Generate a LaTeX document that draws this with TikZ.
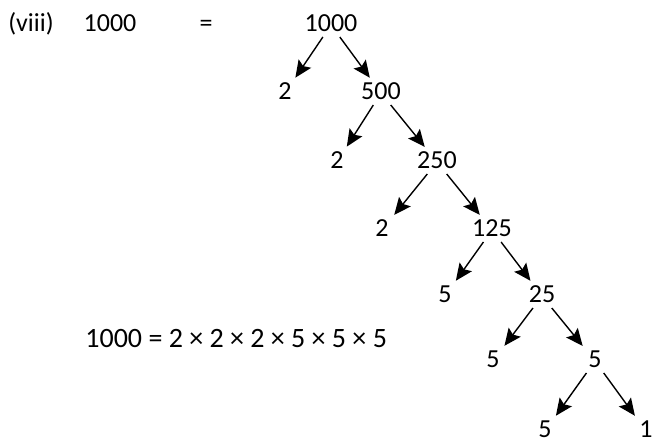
\documentclass[tikz,border=0pt]{standalone}
\usepackage{fontspec}
\setmainfont{Carlito}
\usepackage{tikz}
\usetikzlibrary{arrows.meta}

\begin{document}
\begin{tikzpicture}[
            x=0.5pt, y=-0.5pt,
            num/.style={inner sep=2.5pt, text height=0.66em, text depth=0pt, font=\fontsize{13}{15}\selectfont},
            arr/.style={-{Stealth[length=8.5pt, width=7.5pt, inset=1.5pt]}, line width=0.7pt, shorten >=2pt}
        ]
            \useasboundingbox (0,0) rectangle (655,444);

            % Heading row
            \node[num] (label) at (31,25) {(viii)};
            \node[num] (given) at (110,25) {1000};
            \node[num] (eq) at (206,25) {=};

            % Nodes
            \node[num] (n1000) at (331,25) {1000};
            \node[num] (f1) at (285,93) {2};
            \node[num] (n500) at (381,93) {500};
            \node[num] (f2) at (337,162) {2};
            \node[num] (n250) at (437,162) {250};
            \node[num] (f3) at (382,230) {2};
            \node[num] (n125) at (492,230) {125};
            \node[num] (f4) at (445,296) {5};
            \node[num] (n25) at (542,296) {25};
            \node[num] (f5) at (493,361) {5};
            \node[num] (n5) at (595,361) {5};
            \node[num] (f6) at (545,431) {5};
            \node[num] (n1) at (646,431) {1};

            % Arrows
            \draw[arr] (n1000) -- (f1);
            \draw[arr] (n1000) -- (n500);
            \draw[arr] (n500) -- (f2);
            \draw[arr] (n500) -- (n250);
            \draw[arr] (n250) -- (f3);
            \draw[arr] (n250) -- (n125);
            \draw[arr] (n125) -- (f4);
            \draw[arr] (n125) -- (n25);
            \draw[arr] (n25) -- (f5);
            \draw[arr] (n25) -- (n5);
            \draw[arr] (n5) -- (f6);
            \draw[arr] (n5) -- (n1);

            % Result
            \node[num, font=\fontsize{14}{16}\selectfont, anchor=west, inner sep=0pt] (result) at (85,341) {1000 = 2 × 2 × 2 × 5 × 5 × 5};
        \end{tikzpicture}
\end{document}
